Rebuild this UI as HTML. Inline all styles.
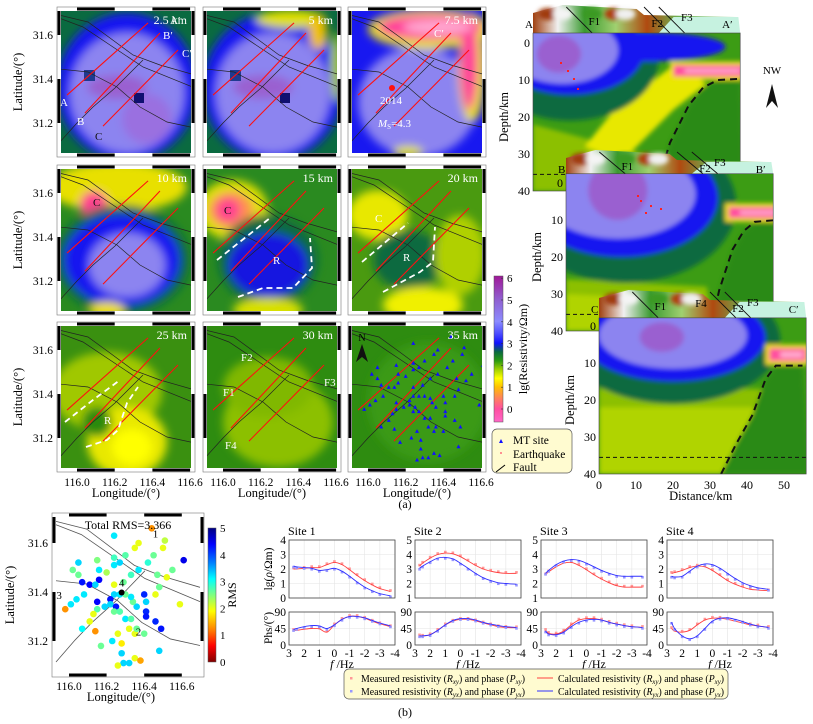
<!DOCTYPE html>
<html><head><meta charset="utf-8">
<style>
body{margin:0;background:#fff;width:813px;height:724px;overflow:hidden}
svg{display:block;font-family:"Liberation Serif",serif}
</style></head>
<body>
<svg id="fig" width="813" height="724" viewBox="0 0 813 724">
<defs>
  <filter id="blur" x="-30%" y="-30%" width="160%" height="160%"><feGaussianBlur stdDeviation="4.5"/></filter>
  <filter id="blur2" x="-30%" y="-30%" width="160%" height="160%"><feGaussianBlur stdDeviation="2.5"/></filter>
  <linearGradient id="resCmap" x1="0" y1="1" x2="0" y2="0">
    <stop offset="0" stop-color="#ff66c8"/>
    <stop offset="0.09" stop-color="#ff4fa0"/>
    <stop offset="0.16" stop-color="#ff8060"/>
    <stop offset="0.24" stop-color="#ffc000"/>
    <stop offset="0.30" stop-color="#ffff00"/>
    <stop offset="0.36" stop-color="#a0d000"/>
    <stop offset="0.42" stop-color="#2a9a10"/>
    <stop offset="0.48" stop-color="#0a6a40"/>
    <stop offset="0.54" stop-color="#1010ff"/>
    <stop offset="0.61" stop-color="#5050ff"/>
    <stop offset="0.69" stop-color="#8c8cff"/>
    <stop offset="0.84" stop-color="#9060d0"/>
    <stop offset="1" stop-color="#a01898"/>
  </linearGradient>
  <linearGradient id="rmsCmap" x1="0" y1="1" x2="0" y2="0">
    <stop offset="0" stop-color="#800000"/>
    <stop offset="0.12" stop-color="#ff0000"/>
    <stop offset="0.24" stop-color="#ff8000"/>
    <stop offset="0.38" stop-color="#ffff00"/>
    <stop offset="0.5" stop-color="#80ff80"/>
    <stop offset="0.62" stop-color="#00ffff"/>
    <stop offset="0.74" stop-color="#0080ff"/>
    <stop offset="0.88" stop-color="#0000ff"/>
    <stop offset="1" stop-color="#000080"/>
  </linearGradient>
  <linearGradient id="terrain" x1="0" y1="0" x2="1" y2="0">
    <stop offset="0" stop-color="#a04010"/>
    <stop offset="0.12" stop-color="#f0f0f0"/>
    <stop offset="0.25" stop-color="#3a9a30"/>
    <stop offset="0.4" stop-color="#a0d070"/>
    <stop offset="0.55" stop-color="#b04a10"/>
    <stop offset="0.7" stop-color="#6ab050"/>
    <stop offset="1" stop-color="#c0e8c0"/>
  </linearGradient>
</defs>
</svg>
<script>
// ---------- data ----------
const panelDepths = ['2.5 km','5 km','7.5 km','10 km','15 km','20 km','25 km','30 km','35 km'];
const profileNames = ['A','B','C'];
const profileStartLon = [115.947, 116.042, 116.138];
const profileStartLat = [31.327, 31.245, 31.186];
const profileEndLon = [116.377, 116.44, 116.536];
const profileEndLat = [31.655, 31.609, 31.532];
const siteLon = [116.44,116.51,116.50,116.35,116.37,116.24,116.61,116.55,116.52,116.45,116.42,116.30,116.24,116.24,116.27,116.15,116.20,116.16,116.16,116.05,116.02,116.05,116.07,116.11,116.14,116.24,116.29,116.33,116.37,116.47,116.48,116.46,116.40,116.41,116.41,116.41,116.46,116.49,116.36,116.34,116.33,116.30,116.27,116.24,116.22,116.22,116.19,116.25,116.24,116.27,116.30,116.33,116.15,116.13,116.11,116.07,116.04,116.15,116.08,116.01,115.98,116.14,116.17,116.23,116.26,116.28,116.28,116.29,116.32,116.26,116.32,116.35,116.36,116.40,116.35,116.38,116.48,116.59];
const siteLat = [31.66,31.61,31.58,31.58,31.60,31.63,31.53,31.49,31.46,31.55,31.52,31.55,31.54,31.51,31.52,31.53,31.48,31.49,31.45,31.52,31.49,31.47,31.44,31.43,31.43,31.43,31.44,31.47,31.49,31.47,31.42,31.39,31.39,31.36,31.32,31.30,31.28,31.25,31.34,31.36,31.38,31.39,31.39,31.39,31.37,31.35,31.34,31.34,31.32,31.32,31.29,31.29,31.33,31.31,31.28,31.25,31.37,31.36,31.39,31.35,31.33,31.24,31.18,31.20,31.23,31.19,31.15,31.11,31.11,31.10,31.25,31.23,31.25,31.23,31.13,31.12,31.16,31.35];
const siteRMS = [1.3,2.2,2.0,2.0,2.0,3.2,4.5,2.6,2.0,2.6,2.9,2.7,2.8,3.2,3.3,2.5,2.3,3.2,4.4,3.3,2.6,2.6,4.3,4.4,3.3,2.0,2.6,2.8,3.2,2.6,2.6,2.0,4.2,3.3,4.2,4.3,4.2,4.3,3.3,2.6,3.2,2.6,3.2,3.3,4.3,3.3,3.3,4.3,2.6,2.7,3.2,2.7,2.7,2.0,2.0,3.1,3.2,4.4,3.2,3.2,1.3,1.3,2.6,3.2,2.0,1.8,3.3,3.3,3.3,2.0,2.0,2.0,2.6,2.6,2.0,1.4,3.3,2.0];
const selLon = [116.46,116.37,115.99,116.28];
const selLat = [31.61,31.21,31.36,31.41];
const selLabel = ['1','2','3','4'];
const totalRMS = '3.366';
const distTicks = [0,10,20,30,40,50];
const depthTicks = [0,10,20,30,40];
const resTicks = [0,1,2,3,4,5,6];
const rmsTicks = [0,1,2,3,4,5];
const lonTicks = [116.0,116.2,116.4,116.6];
const latTicks = [31.6,31.4,31.2];
// MT site response curves
const siteNames = ['Site 1','Site 2','Site 3','Site 4'];
const logF = [2.7,2.5,2,1.5,1,0.5,0,-0.5,-1,-1.5,-2,-2.5,-3,-3.7];
const rhoXY1 = [2.0,2.0,2.05,2.1,2.1,2.3,2.45,2.3,1.95,1.55,1.2,0.9,0.65,0.45];
const rhoYX1 = [2.2,2.15,2.1,2.05,1.9,1.95,2.05,1.85,1.5,1.1,0.75,0.5,0.3,0.15];
const phsXY1 = [40,40,43,45,44,35,55,70,78,78,73,65,58,50];
const phsYX1 = [42,45,50,53,52,45,55,70,78,78,74,67,60,52];
const rhoXY2 = [3.2,3.4,3.75,4.0,4.1,4.05,3.85,3.55,3.25,3.0,2.85,2.75,2.7,2.7];
const rhoYX2 = [3.05,3.2,3.5,3.75,3.8,3.7,3.4,3.05,2.7,2.4,2.2,2.05,2.0,1.95];
const phsXY2 = [25,24,28,40,55,65,70,70,66,60,55,50,48,47];
const phsYX2 = [25,25,28,40,55,67,72,72,68,62,57,53,50,48];
const rhoXY3 = [2.6,2.8,3.15,3.4,3.45,3.25,2.95,2.6,2.3,2.05,1.85,1.75,1.75,1.75];
const rhoYX3 = [2.7,2.9,3.3,3.55,3.65,3.6,3.4,3.15,2.9,2.7,2.55,2.5,2.5,2.5];
const phsXY3 = [40,32,30,38,55,68,72,72,68,62,57,53,50,48];
const phsYX3 = [38,30,28,35,50,62,68,70,68,62,57,53,50,48];
const rhoXY4 = [1.7,1.75,1.9,2.1,2.2,2.15,1.9,1.55,1.2,0.95,0.75,0.6,0.55,0.5];
const rhoYX4 = [1.5,1.45,1.5,1.85,2.2,2.35,2.3,2.05,1.7,1.35,1.05,0.85,0.7,0.6];
const phsXY4 = [45,38,35,40,55,68,73,73,70,65,60,55,52,48];
const phsYX4 = [62,45,25,17,25,45,65,73,74,70,64,57,52,48];
const rhoMin = [0,1,1,0];
const rhoMax = [4,5,5,4];
const freqTicks = [3,2,1,0,-1,-2,-3,-4];
const phsTicks = [0,45,90];

// ---------- helpers ----------
const NS = 'http://www.w3.org/2000/svg';
const svg = document.getElementById('fig');
function mk(tag, attrs, parent){const e=document.createElementNS(NS,tag);for(const k in attrs)e.setAttribute(k,attrs[k]);(parent||svg).appendChild(e);return e;}
function txt(x,y,s,size,attrs,parent){const e=mk('text',Object.assign({x:x,y:y,'font-size':size},attrs||{}),parent);e.innerHTML=s;return e;}
function smooth(pts){let d='M'+pts[0][0]+','+pts[0][1];for(let i=0;i<pts.length-1;i++){const p0=pts[Math.max(0,i-1)],p1=pts[i],p2=pts[i+1],p3=pts[Math.min(pts.length-1,i+2)];const c1=[p1[0]+(p2[0]-p0[0])/6,p1[1]+(p2[1]-p0[1])/6],c2=[p2[0]-(p3[0]-p1[0])/6,p2[1]-(p3[1]-p1[1])/6];d+=' C'+c1[0]+','+c1[1]+' '+c2[0]+','+c2[1]+' '+p2[0]+','+p2[1];}return d;}
const jetStops=[[0,[128,0,0]],[0.6,[255,0,0]],[1.2,[255,128,0]],[1.9,[255,255,0]],[2.5,[128,255,128]],[3.1,[0,255,255]],[3.7,[0,128,255]],[4.4,[0,0,255]],[5,[0,0,128]]];
function jet(v){for(let i=0;i<jetStops.length-1;i++){const a=jetStops[i],b=jetStops[i+1];if(v<=b[0]){const t=Math.max(0,(v-a[0])/(b[0]-a[0]));return 'rgb('+a[1].map((c,j)=>Math.round(c+(b[1][j]-c)*t)).join(',')+')';}}return 'rgb(0,0,128)';}

// ---------- map panels ----------
const PX=[57,203,348], PY=[7,165,322], PW=138, PH=150;
const faults=[
 [[2,8],[31,15],[53,31],[76,48],[103,58],[138,68]],
 [[2,11],[26,20],[53,38],[86,60],[138,81]],
 [[2,62],[31,65],[60,80],[83,100],[110,115],[138,121]],
 [[2,136],[20,116],[36,100],[58,81],[86,53]]
];
const anomalies=[
 [['#0a6a40'],[70,80,70,74,'#1818f0'],[70,86,57,60,'#8c84f0'],[60,80,30,12,'#9a60d0'],[90,112,25,25,'#9a70e0']],
 [['#0a6a40'],[70,80,70,74,'#1818f0'],[70,86,57,60,'#8c84f0'],[60,80,30,12,'#9a60d0'],[88,12,35,9,'#e0e000'],[115,25,9,18,'#f0c000'],[133,60,5,35,'#b0d000']],
 [['#1818f0'],[70,95,60,55,'#8c84f0'],[82,22,62,20,'#e8e000'],[124,60,14,55,'#e8e000'],[82,20,52,13,'#ff3f9a'],[121,55,9,48,'#ff3f9a'],[90,20,35,7,'#ffa8d0'],[60,145,15,6,'#e0e000']],
 [['#2a8a20'],[60,22,70,25,'#e8e000'],[37,40,14,14,'#ff4090'],[65,95,68,55,'#0a6a40'],[65,95,58,46,'#1818f0'],[70,100,38,32,'#8c84f0'],[50,145,18,8,'#f0e000']],
 [['#2a8a20'],[30,45,35,30,'#e0e000'],[28,45,22,18,'#ff9050'],[25,45,12,12,'#ff4090'],[65,95,50,45,'#0a6a40'],[65,100,40,32,'#1818e0'],[65,145,35,12,'#d8e000']],
 [['#4a9a10'],[30,50,30,25,'#e8e800'],[60,95,35,30,'#0a6a40'],[112,90,25,40,'#b0d000'],[75,140,40,18,'#f0f000']],
 [['#3a9010'],[50,70,55,40,'#a0c800'],[70,120,40,35,'#e8e800'],[75,125,20,18,'#ffff00'],[40,100,15,15,'#2a8a10']],
 [['#2e8c10'],[75,100,55,45,'#8cc000'],[65,65,45,30,'#80b800']],
 [['#2e8c10'],[80,80,60,60,'#3a9a18']]
];
const dashes={4:[[[14,95],[67,53]],[[35,132],[60,123],[90,123],[109,103],[107,73]]],5:[[[14,97],[60,58]],[[35,127],[72,107],[85,97],[87,62]]],6:[[[8,100],[36,78],[63,58]],[[29,125],[50,118],[61,108],[70,81],[81,65]]]};
for(let i=0;i<9;i++){
  const x0=PX[i%3], y0=PY[Math.floor(i/3)];
  const X=lon=>x0+20+(lon-116)*188.5, Y=lat=>y0+28+(31.6-lat)*220;
  const g=mk('g',{});
  
  
  const fr=mk('rect',{x:x0,y:y0,width:PW,height:PH,fill:'#fff',stroke:'#777','stroke-width':0.6},g);
  
  
  [[X(116.0),X(116.2)],[X(116.4),X(116.6)]].forEach(s=>{mk('rect',{x:s[0],y:y0+0.5,width:s[1]-s[0],height:3,fill:'#000'},g);mk('rect',{x:s[0],y:y0+PH-3.5,width:s[1]-s[0],height:3,fill:'#000'},g);});
  [[y0+4,Y(31.6)],[Y(31.4),Y(31.2)]].forEach(s=>{mk('rect',{x:x0+0.5,y:s[0],width:3,height:s[1]-s[0],fill:'#000'},g);mk('rect',{x:x0+PW-3.5,y:s[0],width:3,height:s[1]-s[0],fill:'#000'},g);});
  const cp=mk('clipPath',{id:'cp'+i},g);
  mk('rect',{x:x0+4,y:y0+4,width:PW-8,height:PH-8},cp);
  const inner=mk('g',{'clip-path':'url(#cp'+i+')'},g);
  const an=anomalies[i];
  mk('rect',{x:x0,y:y0,width:PW,height:PH,fill:an[0][0]},inner);
  const bl=mk('g',{filter:'url(#blur)'},inner);
  for(let k=1;k<an.length;k++){const a=an[k];mk('ellipse',{cx:x0+a[0],cy:y0+a[1],rx:a[2],ry:a[3],fill:a[4]},bl);}
  if(i<2){mk('rect',{x:x0+27,y:y0+63,width:11,height:11,fill:'#203a90'},inner);mk('rect',{x:x0+77,y:y0+86,width:10,height:10,fill:'#101070'},inner);}
  faults.forEach(f=>{const p=mk('polyline',{points:f.map(q=>(x0+q[0])+','+(y0+q[1])).join(' '),fill:'none',stroke:'#222','stroke-width':0.7},inner);
    
    });
  for(let k=0;k<3;k++){const l=mk('line',{x1:X(profileStartLon[k]),y1:Y(profileStartLat[k]),x2:X(profileEndLon[k]),y2:Y(profileEndLat[k]),stroke:'#ff1010','stroke-width':1.1},inner);
    
    }
  if(dashes[i]) dashes[i].forEach(d=>{const p=mk('polyline',{points:d.map(q=>(x0+q[0])+','+(y0+q[1])).join(' '),fill:'none',stroke:'#fff','stroke-width':1.8,'stroke-dasharray':'6,4'},inner);
    
    });
  if(i===8){
    for(let k=0;k<siteLon.length;k++){const x=X(siteLon[k]),y=Y(siteLat[k]);const t=mk('polygon',{points:(x)+','+(y-2.3)+' '+(x-2)+','+(y+1.5)+' '+(x+2)+','+(y+1.5),fill:'#1010ff'},inner);
      
      }
    const n=mk('polygon',{points:(x0+14)+','+(y0+22)+' '+(x0+8)+','+(y0+40)+' '+(x0+14)+','+(y0+35)+' '+(x0+20)+','+(y0+40),fill:'#111'},g);
    
    
    txt(x0+14,y0+19,'N',10,{'text-anchor':'middle'},g);
  }
  const dl=txt(x0+PW-8,y0+17,panelDepths[i],12,{fill:'#fff','text-anchor':'end'},g);
  
  
  if(i%3===0){latTicks.forEach(v=>txt(x0-4,Y(v)+4,v.toFixed(1),11.5,{'text-anchor':'end'}));
    const yl=txt(0,0,'Latitude/(°)',12.5,{'text-anchor':'middle',transform:'translate(22,'+(y0+PH/2)+') rotate(-90)'});
    
    }
  if(i>=6){lonTicks.forEach(v=>txt(X(v),y0+PH+14,v.toFixed(1),11.5,{'text-anchor':'middle'}));
    const xl=txt(x0+PW/2,y0+PH+25,'Longitude/(°)',12.5,{'text-anchor':'middle'});
    
    }
}
// panel annotations
[[57+113,7+17,"A′"],[57+106,7+32,"B′"],[57+125,7+50,"C′"],[57+3,7+99,"A"],[57+20,7+118,"B"],[57+38,7+133,"C"],
 [348+86,7+30,"C′"],[57+36,165+41,"C"],[203+21,165+49,"C"],[203+70,165+99,"R"],[348+27,165+57,"C"],[348+55,165+96,"R"],[57+47,322+102,"R"],
 [203+38,322+39,"F2"],[203+20,322+74,"F1"],[203+121,322+64,"F3"],[203+22,322+127,"F4"]].forEach(a=>{const t=txt(a[0],a[1],a[2],11,{fill:a[2]==='C'&&a[1]<260&&a[0]<300?'#111':'#fff'});
  
  });
mk('circle',{cx:348+44,cy:7+81,r:3,fill:'#ff1010'});
txt(348+32,7+97,'2014',11,{fill:'#fff'});
txt(348+30,7+120,'<tspan font-style="italic">M</tspan><tspan font-size="7" dy="2">S</tspan><tspan dy="-2">=4.3</tspan>',11,{fill:'#fff'});

// ---------- resistivity colorbar ----------
const cb=mk('rect',{x:494,y:276,width:9,height:146,fill:'url(#resCmap)',stroke:'#555','stroke-width':0.5});


resTicks.forEach(v=>{const y=409-21.8*v;mk('line',{x1:501,x2:503,y1:y,y2:y,stroke:'#333','stroke-width':0.6});txt(507,y+4,String(v),11);});
const cbl=txt(0,0,'lg(Resistivity/Ωm)',12,{'text-anchor':'middle',transform:'translate(527,349) rotate(-90)'});


// legend (a)
const lg=mk('rect',{x:492,y:429,width:80,height:44,rx:5,fill:'#fffbd0',stroke:'#555','stroke-width':0.7});


mk('polygon',{points:'501,439 499,443 503,443',fill:'#1010ff'});
txt(513,444,'MT site',11.5);
mk('rect',{x:500,y:452,width:2,height:2,fill:'#ff9090'});
txt(513,458,'Earthquake',11.5);
mk('line',{x1:496,y1:472,x2:505,y2:465,stroke:'#000','stroke-width':1});
txt(513,471,'Fault',11.5);
txt(405,508,'(a)',12,{'text-anchor':'middle'});

// ---------- cross-sections ----------
const sections=[
 {ox:533,oy:43,top:-2.7,tY:5,name:['A',"A′"],pink:[37,56,6,9],dash:[[33,40],[37,27],[42,17],[46,12],[50,10],[56,9.7]],
  blobs:[[10,4,24,17,'#0a6a40'],[10,2,20,12,'#1818f0'],[30,1,22,4,'#1818f0'],[8,2,15,9,'#8c84f0'],[7,3,6,5,'#9a60d0']],
  lower:[[0,22],[30,30],[36,40],[0,40]],
  yellow:[[14,28],[24,32],[38,18],[47,11],[38,6],[22,18]]},
 {ox:566,oy:183,top:-2.5,tY:150,name:['B',"B′"],pink:[43,57,6.5,9.5],dash:[[39,40],[41.4,29],[45,18],[48,13],[51,10.5],[57,10]],
  blobs:[[16,6,30,21,'#0a6a40'],[15,4,26,16,'#1818f0'],[14,3,21,12,'#8c84f0'],[14,2,8,8,'#9a60d0']],
  lower:[[0,26],[38,28],[40,40],[0,40]],
  yellow:[[0,30],[20,31],[34,32],[34,40],[0,40]]},
 {ox:599,oy:326,top:-2.2,tY:290,name:['C',"C′"],pink:[45,55,6,9.5],dash:[[33,40],[37,32],[41.5,24],[45,14.4],[47.8,10.7],[55,10.7]],
  blobs:[[20,4,29,17,'#0a6a40'],[20,3,25,12,'#1818f0'],[20,2.5,20,9,'#8c84f0'],[17,3,6,4,'#9a60d0']],
  lower:[[0,17],[45,17],[40,40],[0,40]],
  yellow:[[0,22],[42,22],[38,40],[0,40]]}
];
sections.forEach((s,si)=>{
  const K=3.7, X=d=>s.ox+d*K, Y=z=>s.oy+z*K;
  const g=mk('g',{});
  
  
  const tr=mk('polygon',{points:X(0)+','+Y(s.top)+' '+X(0)+','+(s.tY+8)+' '+X(8)+','+s.tY+' '+X(28)+','+(s.tY+4)+' '+X(30)+','+(s.tY+10)+' '+X(55)+','+(s.tY+12)+' '+X(56)+','+Y(s.top),fill:'url(#terrain)'},g);
  
  
  mk('polygon',{points:X(34)+','+Y(s.top)+' '+X(38)+','+(s.tY+12)+' '+X(55.5)+','+(s.tY+12)+' '+X(56)+','+Y(s.top),fill:'#c6f2e0'},g);
  const tb=mk('g',{filter:'url(#blur2)'},g);
  [[4,0.5,'#a03a10'],[8,0.6,'#f4f4f4'],[22,0.5,'#b04010'],[25,0.5,'#f0f0f0'],[16,0.6,'#3a9a20']].forEach(b=>mk('ellipse',{cx:X(b[0]),cy:s.tY+9,rx:10,ry:6,fill:b[2]},tb));
  [[9,0],[30,1],[34,2.5]].forEach(f=>mk('line',{x1:X(f[0]),y1:s.tY+2,x2:X(f[0]+7),y2:Y(s.top),stroke:'#111','stroke-width':0.9},g));
  const cid='sc'+si;
  const cp=mk('clipPath',{id:cid},g);
  mk('rect',{x:X(0),y:Y(s.top),width:56*K,height:Y(40)-Y(s.top)},cp);
  const m=mk('g',{'clip-path':'url(#'+cid+')'},g);
  mk('rect',{x:X(0),y:Y(s.top),width:56*K,height:Y(40)-Y(s.top),fill:'#3c9c14'},m);
  const bl=mk('g',{filter:'url(#blur2)'},m);
  mk('polygon',{points:s.lower.map(p=>X(p[0])+','+Y(p[1])).join(' '),fill:'#8cc000'},bl);
  mk('polygon',{points:s.yellow.map(p=>X(p[0])+','+Y(p[1])).join(' '),fill:si===0?'#e8e800':'#b0d400'},bl);
  mk('polygon',{points:s.dash.map(p=>X(p[0])+','+Y(p[1])).join(' ')+' '+X(57)+','+Y(40),fill:'#2a8a14'},bl);
  s.blobs.forEach(b=>mk('ellipse',{cx:X(b[0]),cy:Y(b[1]),rx:b[2]*K,ry:b[3]*K,fill:b[4]},bl));
  const p=s.pink;
  mk('rect',{x:X(p[0]),y:Y(p[2]-1),width:(p[1]-p[0]+2)*K,height:(p[3]-p[2]+2)*K,fill:'#f0e000'},bl);
  mk('rect',{x:X(p[0]+1),y:Y(p[2]),width:(p[1]-p[0])*K,height:(p[3]-p[2])*K,fill:'#ff4fa0'},bl);
  mk('rect',{x:X(p[0]+4),y:Y(p[2]+1),width:(p[1]-p[0]-4)*K,height:(p[3]-p[2]-2)*K,fill:'#ffb0d0'},bl);
  const df=mk('polyline',{points:s.dash.map(q=>X(q[0])+','+Y(q[1])).join(' '),fill:'none',stroke:'#111','stroke-width':2,'stroke-dasharray':'7,5'},m);
  
  
  mk('line',{x1:X(0),x2:X(56),y1:Y(35.5),y2:Y(35.5),stroke:'#111','stroke-width':1,'stroke-dasharray':'4,3'},m);
  mk('rect',{x:X(0),y:Y(s.top),width:56*K,height:Y(40)-Y(s.top),fill:'none',stroke:'#444','stroke-width':0.6},g);
  depthTicks.forEach(v=>txt(X(0)-3,Y(v)+4,String(v),12,{'text-anchor':'end'},g));
  const dl=txt(0,0,'Depth/km',12.5,{'text-anchor':'middle',transform:'translate('+(s.ox-25)+','+Y(20)+') rotate(-90)'},g);
  
  
  txt(X(0)-8,s.tY+23,s.name[0],11,{},g);
  txt(X(55)-4,s.tY+23,s.name[1],11,{'text-anchor':'end'},g);
  txt(X(15),s.tY+20,'F1',11,{},g);
  txt(X(si===0?32:36),s.tY+22,'F2',11,{},g);
  txt(X(40),s.tY+16,'F3',11,{},g);
  if(si===2){txt(X(26),s.tY+17,'F4',11,{},g);
    distTicks.forEach(v=>txt(X(v),489,String(v),12,{'text-anchor':'middle'},g));
    const xl=txt(X(27.5),500,'Distance/km',12.5,{'text-anchor':'middle'},g);
    
    }
});
[[560,62],[567,70],[573,78],[577,88],[640,200],[650,205],[645,212],[637,195],[660,208]].forEach(q=>mk('rect',{x:q[0],y:q[1],width:2,height:2,fill:'#ff2020'}));
txt(772,74,'NW',11,{'text-anchor':'middle'});
const nw=mk('polygon',{points:'772,84 766,108 772,101 778,108',fill:'#111'});



// ---------- RMS map ----------
{
  const X=lon=>69+(lon-116)*188, Y=lat=>543-(lat-31.6)*245;
  const x0=52,y0=513,w=152,h=164;
  const fr=mk('rect',{x:x0,y:y0,width:w,height:h,fill:'#fff',stroke:'#777','stroke-width':0.6});
  
  
  [[X(116.0),X(116.2)],[X(116.4),X(116.6)]].forEach(s=>{mk('rect',{x:s[0],y:y0+0.5,width:s[1]-s[0],height:3,fill:'#000'});mk('rect',{x:s[0],y:y0+h-3.5,width:s[1]-s[0],height:3,fill:'#000'});});
  [[y0+4,Y(31.6)],[Y(31.4),Y(31.2)]].forEach(s=>{mk('rect',{x:x0+0.5,y:s[0],width:3,height:s[1]-s[0],fill:'#000'});mk('rect',{x:x0+w-3.5,y:s[0],width:3,height:s[1]-s[0],fill:'#000'});});
  const sx=(w-8)/136, sy=(h-8)/142;
  faults.forEach(f=>mk('polyline',{points:f.map(q=>(x0+4+(q[0]-2)*sx)+','+(y0+4+(q[1]-4)*sy)).join(' '),fill:'none',stroke:'#555','stroke-width':0.8}));
  for(let k=0;k<siteLon.length;k++){const c=mk('circle',{cx:X(siteLon[k]),cy:Y(siteLat[k]),r:3.3,fill:jet(siteRMS[k])});
    
    }
  for(let k=0;k<4;k++){txt(X(selLon[k])+(k===2?-8:0),Y(selLat[k])-3,selLabel[k],11,{'text-anchor':'middle'});}
  mk('circle',{cx:X(selLon[3]),cy:Y(selLat[3])+3,r:3,fill:'#000'});
  txt(128,529,'Total RMS='+totalRMS,12,{'text-anchor':'middle'});
  latTicks.forEach(v=>txt(x0-4,Y(v)+4,v.toFixed(1),11.5,{'text-anchor':'end'}));
  lonTicks.forEach(v=>txt(X(v),690,v.toFixed(1),11.5,{'text-anchor':'middle'}));
  txt(121,701,'Longitude/(°)',12.5,{'text-anchor':'middle'});
  txt(0,0,'Latitude/(°)',12.5,{'text-anchor':'middle',transform:'translate(14,595) rotate(-90)'});
  const rc=mk('rect',{x:208,y:528,width:8,height:134,fill:'url(#rmsCmap)',stroke:'#555','stroke-width':0.5});
  
  
  rmsTicks.forEach(v=>{const y=662-26.8*v;txt(220,y+4,String(v),11);});
  txt(0,0,'RMS',12,{'text-anchor':'middle',transform:'translate(236,595) rotate(-90)'});
}

// ---------- MT responses ----------
const allRhoXY=[rhoXY1,rhoXY2,rhoXY3,rhoXY4], allRhoYX=[rhoYX1,rhoYX2,rhoYX3,rhoYX4];
const allPhsXY=[phsXY1,phsXY2,phsXY3,phsXY4], allPhsYX=[phsYX1,phsYX2,phsYX3,phsYX4];
const SX=[289,415,541,667], SW=106;
for(let s=0;s<4;s++){
  const x0=SX[s];
  const X=f=>x0+(3-f)/7*SW;
  const Yr=v=>598-(v-rhoMin[s])/(rhoMax[s]-rhoMin[s])*58;
  const Yp=v=>645-v/90*33;
  const g=mk('g',{});
  
  
  txt(x0-1,535,siteNames[s],12,{},g);
  [[540,598,Yr,rhoMin[s],rhoMax[s]],[612,645,Yp,0,90]].forEach((ax,ai)=>{
    mk('rect',{x:x0,y:ax[0],width:SW,height:ax[1]-ax[0],fill:'#fff'},g);
    freqTicks.forEach(f=>mk('line',{x1:X(f),x2:X(f),y1:ax[0],y2:ax[1],stroke:'#e4e4e4','stroke-width':0.6},g));
    const yt=ai===0?[...Array(rhoMax[s]-rhoMin[s]+1).keys()].map(k=>k+rhoMin[s]):phsTicks;
    yt.forEach(v=>{mk('line',{x1:x0,x2:x0+SW,y1:ax[2](v),y2:ax[2](v),stroke:'#e4e4e4','stroke-width':0.6},g);txt(x0-3,ax[2](v)+4,String(v),11.5,{'text-anchor':'end'},g);});
    const cl=ai===0?[allRhoXY[s],allRhoYX[s]]:[allPhsXY[s],allPhsYX[s]];
    ['#ff4040','#3030ff'].forEach((col,ci)=>{
      const pts=logF.map((f,k)=>[X(f),ax[2](cl[ci][k])]);
      pts.forEach(p=>{mk('rect',{x:p[0]-1.3,y:p[1]-1.3+(ci?1:-1),width:2.6,height:2.6,fill:ci?'#9898ff':'#ff9898'},g);});
      const c=mk('path',{d:smooth(pts),fill:'none',stroke:col,'stroke-width':0.9},g);
      
      
    });
    mk('rect',{x:x0,y:ax[0],width:SW,height:ax[1]-ax[0],fill:'none',stroke:'#444','stroke-width':0.8},g);
  });
  freqTicks.forEach(f=>txt(X(f),657,String(f),11.5,{'text-anchor':'middle'},g));
  txt(x0+SW/2,668,'<tspan font-style="italic">f</tspan> /Hz',12,{'text-anchor':'middle'},g);
}
txt(0,0,'lg(<tspan font-style="italic">ρ</tspan>/Ωm)',11.5,{'text-anchor':'middle',transform:'translate(272,569) rotate(-90)'});
txt(0,0,'Phs/(°)',11.5,{'text-anchor':'middle',transform:'translate(272,628) rotate(-90)'});
// legend (b)
const lb=mk('rect',{x:344,y:669,width:384,height:30,rx:5,fill:'#fffbd0',stroke:'#555','stroke-width':0.7});


mk('rect',{x:350,y:677,width:2.5,height:2.5,fill:'#ff9898'});
mk('rect',{x:350,y:690,width:2.5,height:2.5,fill:'#9898ff'});
const sub=(a)=>'<tspan font-style="italic">R</tspan><tspan font-size="7" dy="2" font-style="italic">'+a+'</tspan><tspan dy="-2">) and phase (</tspan><tspan font-style="italic">P</tspan><tspan font-size="7" dy="2" font-style="italic">'+a+'</tspan><tspan dy="-2">)</tspan>';
txt(361,682,'Measured resistivity ('+sub('xy'),10,{textLength:164,lengthAdjust:'spacingAndGlyphs'});
txt(361,695,'Measured resistivity ('+sub('yx'),10,{textLength:164,lengthAdjust:'spacingAndGlyphs'});
mk('line',{x1:537,x2:553,y1:678,y2:678,stroke:'#ff4040','stroke-width':1});
mk('line',{x1:537,x2:553,y1:691,y2:691,stroke:'#3030ff','stroke-width':1});
txt(558,682,'Calculated resistivity ('+sub('xy'),10,{textLength:166,lengthAdjust:'spacingAndGlyphs'});
txt(558,695,'Calculated resistivity ('+sub('yx'),10,{textLength:166,lengthAdjust:'spacingAndGlyphs'});
txt(405,716,'(b)',12,{'text-anchor':'middle'});
</script>
</body></html>
